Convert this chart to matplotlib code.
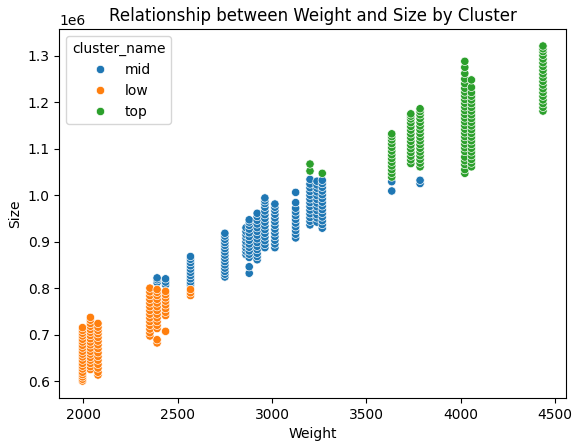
"""Scatter of Size vs Weight, coloured by cluster."""
import matplotlib
matplotlib.use("Agg")
import matplotlib.pyplot as plt
import numpy as np
import pandas as pd
import seaborn as sns

# Size values below are in thousands (1e6 axis)
mid_weights = [2391, 2436, 2568, 2750, 2862, 2879, 2921, 2962, 3015, 3125,
               3201, 3238, 3266, 3634, 3784]
mid_sizes = [
    [812, 818, 822],
    [807, 813, 820],
    [807, 813, 820, 827, 834, 841, 848, 855, 862, 868],
    [824, 830, 836, 843, 850, 857, 864, 871, 878, 885, 892, 898, 905, 912, 918],
    [872, 879, 886, 893, 900, 908, 915, 922, 930],
    [832, 846, 866, 873, 880, 888, 895, 903, 911, 919, 927, 935, 942, 947],
    [861, 868, 875, 883, 890, 898, 906, 914, 922, 930, 938, 946, 954, 961],
    [887, 894, 902, 910, 918, 926, 934, 942, 950, 958, 966, 974, 982, 988, 994],
    [887, 895, 903, 911, 919, 927, 935, 943, 951, 959, 967, 974, 981],
    [908, 916, 924, 932, 940, 948, 956, 964, 972, 984, 1006],
    [936, 944, 952, 960, 968, 976, 984, 992, 1000, 1008, 1016, 1024, 1034],
    [942, 951, 958, 967, 975, 983, 991, 999, 1007, 1015, 1022, 1030],
    [929, 937, 945, 953, 961, 969, 977, 985, 993, 1001, 1009, 1017, 1025, 1032],
    [1009, 1029],
    [1025, 1032],
]

low_weights = [1996, 2038, 2078, 2353, 2391, 2436, 2568]
low_sizes = [
    [600, 604, 609, 614, 619, 626, 632, 638, 645, 652, 658, 664, 671, 677,
     684, 690, 697, 703, 709, 715],
    [625, 631, 638, 645, 651, 658, 664, 671, 678, 684, 691, 698, 705, 711,
     718, 724, 731, 737],
    [613, 619, 628, 636, 645, 653, 661, 670, 678, 686, 694, 702, 709, 716, 724],
    [697, 704, 712, 720, 728, 736, 744, 752, 760, 768, 776, 784, 792, 800],
    [682, 689, 713, 720, 728, 736, 744, 752, 760, 768, 776, 784, 791, 797],
    [707, 741, 748, 756, 764, 772, 779, 786, 793],
    [784, 790, 797],
]

top_weights = [3201, 3266, 3634, 3735, 3784, 4021, 4056, 4435]
top_sizes = [
    [1052, 1067],
    [1047],
    [1039, 1047, 1055, 1063, 1071, 1079, 1087, 1095, 1103, 1111, 1119, 1126, 1132],
    [1068, 1076, 1084, 1092, 1100, 1108, 1116, 1124, 1132, 1140, 1148, 1156,
     1164, 1170, 1175],
    [1061, 1069, 1077, 1085, 1093, 1101, 1109, 1117, 1125, 1133, 1141, 1149,
     1157, 1165, 1173, 1180, 1186],
    [1047, 1055, 1066, 1074, 1082, 1094, 1102, 1110, 1118, 1126, 1134, 1142,
     1150, 1158, 1166, 1174, 1182, 1190, 1198, 1206, 1214, 1222, 1230, 1240,
     1250, 1262, 1275, 1288],
    [1061, 1069, 1077, 1085, 1093, 1101, 1109, 1117, 1125, 1133, 1141, 1149,
     1157, 1165, 1173, 1181, 1189, 1197, 1205, 1213, 1221, 1232, 1248],
    [1181, 1189, 1197, 1205, 1213, 1221, 1229, 1237, 1245, 1253, 1261, 1269,
     1277, 1285, 1293, 1301, 1309, 1315, 1321],
]

cluster_order = ["mid", "low", "top"]


def build_frame() -> pd.DataFrame:
    rows = []
    groups = {
        "mid": (mid_weights, mid_sizes),
        "low": (low_weights, low_sizes),
        "top": (top_weights, top_sizes),
    }
    for name in cluster_order:
        weights, sizes = groups[name]
        for w, col in zip(weights, sizes):
            for s in col:
                rows.append((w, s * 1000, name))
    return pd.DataFrame(rows, columns=["Weight", "Size", "cluster_name"])


df = build_frame()

fig = plt.figure(figsize=(5.72, 4.43), dpi=100)
ax = fig.add_axes([0.104, 0.102, 0.8855, 0.832])
sns.scatterplot(data=df, x="Weight", y="Size", hue="cluster_name",
                hue_order=cluster_order, ax=ax)
ax.set_title("Relationship between Weight and Size by Cluster")
ax.legend(title="cluster_name", loc="upper left")
fig.savefig("out.png", dpi=100)
